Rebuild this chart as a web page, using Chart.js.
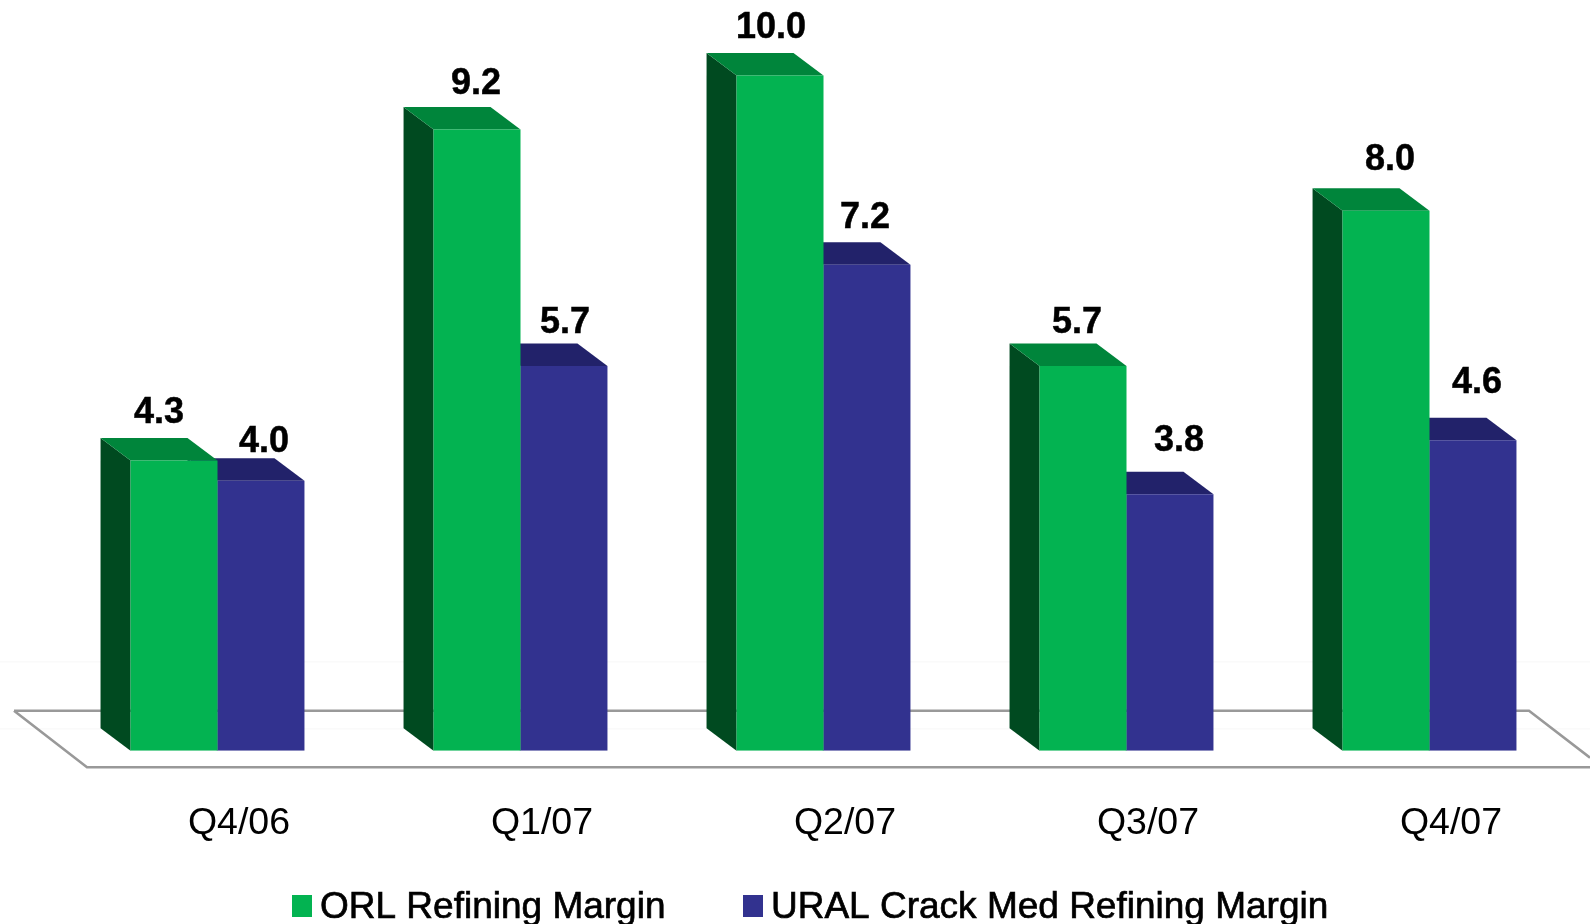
<!DOCTYPE html>
<html><head><meta charset="utf-8">
<style>html,body{margin:0;padding:0;background:#fff;overflow:hidden}canvas{display:block}</style>
<script src="https://cdn.jsdelivr.net/npm/chart.js@4"></script>
</head><body><canvas id="c" width="1590" height="924"></canvas>
<script>
const categories = ["Q4/06","Q1/07","Q2/07","Q3/07","Q4/07"];
const orlMargin = [4.3,9.2,10.0,5.7,8.0];
const uralMargin = [4.0,5.7,7.2,3.8,4.6];
const seriesNames = ["ORL Refining Margin","URAL Crack Med Refining Margin"];

const FONT = '"Liberation Sans", Arial, sans-serif';
const GREEN = {front:'#03B351', side:'#004A20', top:'#00853B'};
const BLUE = {front:'#32328F', side:'#22226A', top:'#22226A'};
const DX = 30, DY = 22.5;
// label nudges relative to bar centre / bar top (px), per series
const nudge = [
  [[-15,-47],[-1,-46],[-9,-48],[-6,-43],[4,-51]],
  [[3,-39],[1,-43],[-2,-47],[9,-53],[4,-57]]
];

const floorPlugin = {
  id:'floor',
  beforeDatasetsDraw(chart){
    const {ctx,chartArea:a,width} = chart;
    const back = a.bottom-40, front = a.bottom+16.5;
    ctx.save();
    ctx.strokeStyle='#fafafa'; ctx.lineWidth=1.5;
    [a.bottom-89,a.bottom-22].forEach(y=>{ctx.beginPath();ctx.moveTo(0,y);ctx.lineTo(width,y);ctx.stroke();});
    ctx.strokeStyle='#999999'; ctx.lineWidth=2.6;
    ctx.beginPath();
    ctx.moveTo(14,back); ctx.lineTo(1529,back); ctx.lineTo(1590,back+47);
    ctx.moveTo(14,back); ctx.lineTo(87,front); ctx.lineTo(1590,front);
    ctx.stroke();
    // 3D faces: blue first so green overlaps it
    [1,0].forEach(ds=>{
      const pal = ds===0?GREEN:BLUE;
      chart.getDatasetMeta(ds).data.forEach(bar=>{
        const l=bar.x-bar.width/2, r=bar.x+bar.width/2, t=bar.y, b=bar.base;
        ctx.fillStyle=pal.side;
        ctx.beginPath();ctx.moveTo(l,t);ctx.lineTo(l-DX,t-DY);ctx.lineTo(l-DX,b-DY);ctx.lineTo(l,b);ctx.closePath();ctx.fill();
        ctx.fillStyle=pal.top;
        ctx.beginPath();ctx.moveTo(l,t);ctx.lineTo(l-DX,t-DY);ctx.lineTo(r-DX,t-DY);ctx.lineTo(r,t);ctx.closePath();ctx.fill();
      });
    });
    ctx.restore();
  },
  afterDatasetsDraw(chart){
    const {ctx} = chart;
    ctx.save();
    ctx.fillStyle='#000'; ctx.textAlign='center'; ctx.textBaseline='middle';
    ctx.font='bold 36px '+FONT; ctx.strokeStyle='#000'; ctx.lineWidth=0.5;
    chart.data.datasets.forEach((d,ds)=>{
      chart.getDatasetMeta(ds).data.forEach((bar,i)=>{
        const s=d.data[i].toFixed(1), x=bar.x+nudge[ds][i][0], y=bar.y+nudge[ds][i][1];
        ctx.fillText(s,x,y); ctx.strokeText(s,x,y);
      });
    });
    // legend
    ctx.textAlign='left'; ctx.font='37px '+FONT; ctx.lineWidth=0.7;
    const items=[[292,320,GREEN.front],[743,771,BLUE.front]];
    items.forEach((it,i)=>{
      ctx.fillStyle=it[2]; ctx.fillRect(it[0],895,20,22);
      ctx.fillStyle='#000'; ctx.fillText(seriesNames[i],it[1],908); ctx.strokeText(seriesNames[i],it[1],908);
    });
    ctx.restore();
  }
};

new Chart(document.getElementById('c'),{
  type:'bar',
  data:{labels:categories,datasets:[
    {label:seriesNames[0],data:orlMargin,backgroundColor:GREEN.front,borderWidth:0},
    {label:seriesNames[1],data:uralMargin,backgroundColor:BLUE.front,borderWidth:0}
  ]},
  plugins:[floorPlugin],
  options:{
    responsive:false,animation:false,
    layout:{padding:{left:66,right:9,top:0,bottom:0}},
    plugins:{legend:{display:false},tooltip:{enabled:false}},
    datasets:{bar:{barPercentage:1,categoryPercentage:0.574}},
    scales:{
      x:{
        grid:{display:false,drawTicks:false},border:{display:false},
        afterFit(s){s.height=173.3;},
        ticks:{color:'#000',font:{family:FONT,size:37.5},padding:50.5,labelOffset:21.5,maxRotation:0,autoSkip:false}
      },
      y:{display:false,min:0,max:11.12}
    }
  }
});
</script></body></html>
